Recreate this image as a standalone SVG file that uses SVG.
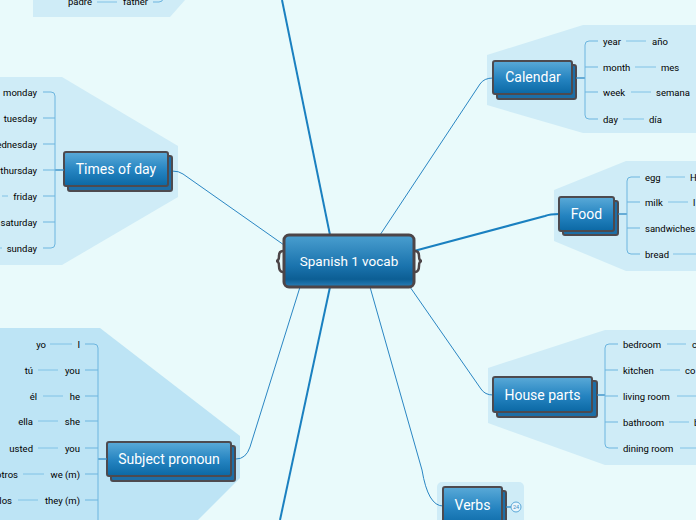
<svg xmlns="http://www.w3.org/2000/svg" width="696" height="520" viewBox="0 0 696 520">
<defs>
<linearGradient id="g" x1="0" y1="0" x2="0" y2="1">
<stop offset="0" stop-color="#5aaad8"/>
<stop offset="0.55" stop-color="#2483c0"/>
<stop offset="1" stop-color="#0b68a4"/>
</linearGradient>
<linearGradient id="gc" x1="0" y1="0" x2="0" y2="1">
<stop offset="0" stop-color="#4a9fd0"/>
<stop offset="0.6" stop-color="#1a73ad"/>
<stop offset="0.85" stop-color="#0c5e94"/>
<stop offset="1" stop-color="#2a7fb8"/>
</linearGradient>
</defs>
<style>
.bg{fill:#e9fafb}
.reg{fill:#cfecf7}
.reg2{fill:#bde4f5}
.main{fill:url(#g);stroke:#4d4a4f;stroke-width:2}
.sh{fill:#1d6ea6;stroke:#4d4a4f;stroke-width:2}
.nt{font-family:Roboto,"Liberation Sans",sans-serif;font-size:14px;fill:#ffffff;text-anchor:middle}
.lf{font-family:Roboto,"Liberation Sans",sans-serif;font-size:9.5px;fill:#000000}
.e{text-anchor:end}
.br{fill:none;stroke:#6cb5df;stroke-width:1}
.ln{fill:none;stroke:#80c2e6;stroke-width:1}
.nl{fill:none;stroke:#2f8ac4;stroke-width:1.3}
.c1{fill:none;stroke:#2a86c3;stroke-width:1}
.c2{fill:none;stroke:#1a80c0;stroke-width:2}
</style>
<rect class="bg" x="0" y="0" width="696" height="520"/>

<g id="regions">
<polygon class="reg" points="33,0 33,17 170,17 185,0"/>
<polygon class="reg" points="487,55 583,25 696,25 696,133 583,133 487,105"/>
<polygon class="reg" points="0,77 62,77 178,146 178,197 62,265 0,265"/>
<polygon class="reg" points="554,190 626,161 696,161 696,271 626,271 554,241"/>
<polygon class="reg" points="488,368 605,330 696,330 696,465 605,465 488,423"/>
<polygon class="reg2" points="0,328 100,328 240,436 240,478 198,520 0,520"/>
<rect class="reg" x="437" y="482" width="87" height="50" rx="5"/>
</g>

<g id="connectors">
<path class="c2" d="M330,235 L282,0"/>
<path class="c2" d="M330,287 L280,520"/>
<path class="c2" d="M414,251 L545,216 Q550,214 559,214"/>
<path class="c1" d="M380,235 L480,84 Q484,78 493,78"/>
<path class="c1" d="M284,245 L183,174 Q179,171 172,171"/>
<path class="c1" d="M410,287 L481,389 Q485,395 493,395"/>
<path class="c1" d="M370,287 L422,470 Q428,506 443,506"/>
<path class="c1" d="M300,287 L250,447 Q246,459 236,459"/>
</g>

<g id="padre">
<text class="lf" x="68" y="5">padre</text>
<path class="ln" d="M97,2 H117"/>
<text class="lf" x="123" y="5">father</text>
<path class="br" d="M153,2 H159 Q163,2 163,-2 V-10"/>
</g>

<g id="calendar">
<rect class="sh" x="497" y="65" width="79" height="34" rx="2"/>
<rect class="main" x="493" y="61" width="79" height="33" rx="2"/>
<text class="nt" x="533" y="82">Calendar</text>
<path class="nl" d="M576,78 H585"/>
<path class="br" d="M598,41 H589 Q585,41 585,45 V115 Q585,119 589,119 H598 M585,67 H598 M585,92 H598"/>
<text class="lf" x="603" y="44.5">year</text><path class="ln" d="M626,41 H646"/><text class="lf" x="652" y="44.5">año</text>
<text class="lf" x="603" y="70.5">month</text><path class="ln" d="M635,67 H656"/><text class="lf" x="661" y="70.5">mes</text>
<text class="lf" x="603" y="95.5">week</text><path class="ln" d="M631,92 H651"/><text class="lf" x="656" y="95.5">semana</text>
<text class="lf" x="603" y="122.5">day</text><path class="ln" d="M623,119 H644"/><text class="lf" x="649" y="122.5">día</text>
</g>

<g id="times">
<rect class="sh" x="68" y="156" width="104" height="35" rx="2"/>
<rect class="main" x="64" y="152" width="104" height="34" rx="2"/>
<text class="nt" x="116" y="174">Times of day</text>
<path class="nl" d="M64,170 H55"/>
<path class="br" d="M43,92 H51 Q55,92 55,96 V244 Q55,248 51,248 H43 M43,118 H55 M43,144 H55 M43,170 H55 M43,196 H55 M43,222 H55"/>
<text class="lf e" x="37" y="95.5">monday</text>
<text class="lf e" x="37" y="121.5">tuesday</text>
<text class="lf e" x="37" y="147.5">wednesday</text>
<text class="lf e" x="37" y="173.5">thursday</text>
<text class="lf e" x="37" y="199.5">friday</text>
<text class="lf e" x="37" y="225.5">saturday</text>
<text class="lf e" x="37" y="251.5">sunday</text>
<path class="ln" d="M2,196 H8 M0,248 H2"/>
</g>

<g id="food">
<rect class="sh" x="563" y="201" width="55" height="34" rx="2"/>
<rect class="main" x="559" y="197" width="55" height="34" rx="2"/>
<text class="nt" x="586.5" y="219">Food</text>
<path class="nl" d="M618,214 H627"/>
<path class="br" d="M640,177 H631 Q627,177 627,181 V250 Q627,254 631,254 H640 M627,202 H640 M627,228 H640"/>
<text class="lf" x="645" y="180.5">egg</text><path class="ln" d="M666,177 H685"/><text class="lf" x="690" y="180.5">H</text>
<text class="lf" x="645" y="205.5">milk</text><path class="ln" d="M668,202 H688"/><text class="lf" x="693" y="205.5">l</text>
<text class="lf" x="645" y="231.5">sandwiches</text>
<text class="lf" x="645" y="257.5">bread</text><path class="ln" d="M673,254 H696"/>
</g>

<g id="house">
<rect class="sh" x="497" y="381" width="100" height="36" rx="2"/>
<rect class="main" x="493" y="377" width="99" height="35" rx="2"/>
<text class="nt" x="542.5" y="400">House parts</text>
<path class="nl" d="M597,395 H605"/>
<path class="br" d="M618,344 H609 Q605,344 605,348 V444 Q605,448 609,448 H618 M605,370 H618 M605,396 H618 M605,422 H618"/>
<text class="lf" x="623" y="347.5">bedroom</text><path class="ln" d="M667,344 H686"/><text class="lf" x="692" y="347.5">c</text>
<text class="lf" x="623" y="373.5">kitchen</text><path class="ln" d="M660,370 H680"/><text class="lf" x="685" y="373.5">co</text>
<text class="lf" x="623" y="399.5">living room</text><path class="ln" d="M677,396 H696"/>
<text class="lf" x="623" y="425.5">bathroom</text><path class="ln" d="M669,422 H689"/><text class="lf" x="694" y="425.5">b</text>
<text class="lf" x="623" y="451.5">dining room</text><path class="ln" d="M680,448 H696"/>
</g>

<g id="subject">
<rect class="sh" x="111" y="446" width="124" height="35" rx="2"/>
<rect class="main" x="107" y="442" width="124" height="34" rx="2"/>
<text class="nt" x="169" y="464">Subject pronoun</text>
<path class="nl" d="M107,459 H98"/>
<path class="br" d="M85,344 H94 Q98,344 98,348 V520 M85,370 H98 M85,396 H98 M85,421 H98 M85,448 H98 M85,474 H98 M85,500 H98"/>
<text class="lf e" x="46" y="347.5">yo</text><path class="ln" d="M50,344 H72"/><text class="lf e" x="80" y="347.5">I</text>
<text class="lf e" x="33" y="373.5">tú</text><path class="ln" d="M38,370 H58"/><text class="lf e" x="80" y="373.5">you</text>
<text class="lf e" x="37" y="399.5">él</text><path class="ln" d="M43,396 H63"/><text class="lf e" x="80" y="399.5">he</text>
<text class="lf e" x="33" y="424.5">ella</text><path class="ln" d="M38,421 H58"/><text class="lf e" x="80" y="424.5">she</text>
<text class="lf e" x="33" y="451.5">usted</text><path class="ln" d="M38,448 H58"/><text class="lf e" x="80" y="451.5">you</text>
<text class="lf e" x="18" y="477.5">nosotros</text><path class="ln" d="M23,474 H44"/><text class="lf e" x="80" y="477.5">we (m)</text>
<text class="lf e" x="12" y="503.5">ellos</text><path class="ln" d="M18,500 H38"/><text class="lf e" x="80" y="503.5">they (m)</text>
</g>

<g id="verbs">
<rect class="sh" x="447" y="491" width="59" height="40" rx="2"/>
<rect class="main" x="443" y="487" width="59" height="40" rx="2"/>
<text class="nt" x="472.5" y="510">Verbs</text>
<path class="nl" d="M506,507 H511"/>
<circle cx="516" cy="507" r="5" fill="#eaf6fc" stroke="#5aa8d8" stroke-width="1"/>
<text x="516" y="509" font-family="Roboto,'Liberation Sans',sans-serif" font-size="5.5" fill="#3a8cc4" text-anchor="middle">24</text>
</g>

<g id="center">
<rect x="284" y="235" width="130" height="52" rx="5" fill="url(#gc)" stroke="#4d4548" stroke-width="3"/>
<path d="M283,251 Q279,251 279,256 Q279,261 276,261 Q279,261 279,266 Q279,272 283,272" fill="none" stroke="#4d4548" stroke-width="2.5"/>
<path d="M415,251 Q419,251 419,256 Q419,261 422,261 Q419,261 419,266 Q419,272 415,272" fill="none" stroke="#4d4548" stroke-width="2.5"/>
<text x="349" y="266" font-family="Roboto,'Liberation Sans',sans-serif" font-size="13.5" fill="#ffffff" text-anchor="middle">Spanish 1 vocab</text>
</g>
</svg>
